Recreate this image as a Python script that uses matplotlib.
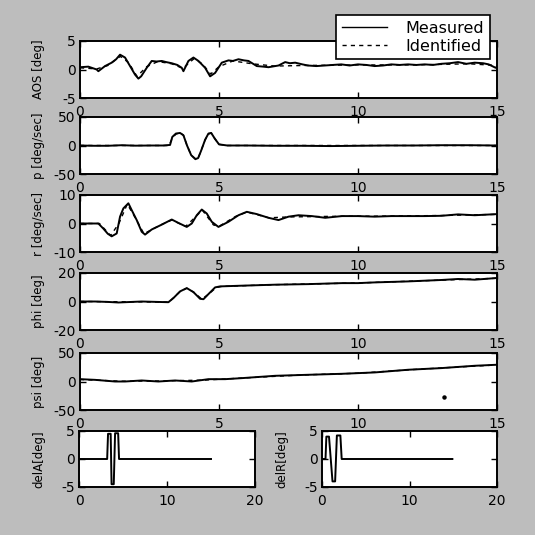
import matplotlib
matplotlib.use("Agg")
import matplotlib.pyplot as plt
from matplotlib.lines import Line2D

# ---------------- data ----------------
aos_t = [0, 0.3, 0.6, 0.66, 0.9, 1.14, 1.3, 1.44, 1.62, 1.8, 1.98, 2.1, 2.2, 2.4, 2.58, 2.75, 2.94, 3.1, 3.3,
         3.5, 3.66, 3.72, 3.9, 4.08, 4.26, 4.5, 4.68, 4.86, 5.1, 5.34, 5.5, 5.7, 5.9, 6.06, 6.36, 6.6, 6.78,
         7.14, 7.38, 7.55, 7.74, 8.0, 8.2, 8.5, 8.8, 9.1, 9.4, 9.7, 10.0, 10.3, 10.6, 10.9, 11.2, 11.5, 11.8,
         12.1, 12.4, 12.7, 13.0, 13.3, 13.6, 13.9, 14.2, 14.5, 14.7, 14.95, 15.0]
aos_v = [0.4, 0.5, 0.0, -0.3, 0.6, 1.2, 1.8, 2.6, 2.1, 0.6, -0.9, -1.6, -1.2, 0.3, 1.5, 1.4, 1.5, 1.3, 1.1,
         0.8, 0.3, -0.3, 1.5, 2.1, 1.5, 0.3, -1.2, -0.6, 1.2, 1.6, 1.5, 1.8, 1.6, 1.5, 0.6, 0.5, 0.4,
         0.7, 1.3, 1.1, 1.2, 0.9, 0.7, 0.6, 0.7, 0.8, 0.9, 0.7, 0.9, 0.8, 0.6, 0.7, 0.9, 0.8, 0.9,
         0.8, 0.9, 0.8, 1.0, 1.1, 1.3, 1.0, 1.2, 1.1, 0.9, 0.3, 0.5]
aos_id_t = [0, 0.6, 1.0, 1.45, 1.75, 2.05, 2.4, 2.8, 3.3, 3.7, 4.1, 4.4, 4.7, 5.0, 5.5, 6.2, 7.0, 8.0, 10.0, 12.0, 14.0, 15.0]
aos_id_v = [0.3, 0.1, 0.7, 2.3, 1.2, -1.2, 0.5, 1.4, 1.0, 0.2, 1.9, 1.0, -0.8, 0.5, 1.5, 1.0, 0.6, 0.7, 0.8, 0.8, 1.0, 0.7]

p_t = [0, 0.5, 1.0, 1.5, 2.0, 2.5, 3.0, 3.24, 3.32, 3.45, 3.6, 3.72, 3.85, 4.0, 4.15, 4.25, 4.35, 4.5, 4.62,
       4.72, 4.85, 5.0, 5.3, 6.0, 7.0, 8.0, 9.0, 10.0, 11.0, 12.0, 13.0, 14.0, 15.0]
p_v = [0, -0.5, -0.5, 0.5, -0.3, 0, 0, 1, 15, 21, 22, 18, 0, -17, -24, -22, -10, 10, 21,
       22, 12, 2, 0, 0, -0.5, -0.5, -1, -0.5, 0, 0, 0.5, 0.5, 0]
p_id_t = [0, 3.2, 3.32, 3.45, 3.6, 3.72, 3.85, 4.0, 4.15, 4.25, 4.35, 4.5, 4.62, 4.72, 4.85, 5.0, 5.3, 15.0]
p_id_v = [0, 0, 13, 20, 22, 18, 0, -17, -23, -22, -10, 10, 20, 22, 12, 2, 0, 0]

r_t = [0, 0.66, 0.84, 1.0, 1.14, 1.32, 1.44, 1.56, 1.74, 1.86, 2.04, 2.22, 2.34, 2.58, 2.94, 3.3, 3.54,
       3.84, 4.02, 4.2, 4.38, 4.56, 4.74, 4.98, 5.34, 5.7, 6.0, 6.36, 6.78, 7.14, 7.5, 7.86, 8.34, 8.82,
       9.42, 10.0, 10.6, 11.2, 11.8, 12.4, 13.0, 13.6, 14.2, 15.0]
r_v = [0, 0, -1.8, -3.6, -4.5, -3.5, 2.4, 5.3, 7.1, 4.7, 1.2, -2.9, -3.9, -2.1, -0.4, 1.4, 0.2,
       -1.2, 0, 2.9, 4.9, 3.5, 0.6, -1.2, 0.6, 2.9, 4.1, 3.3, 2.0, 1.2, 2.4, 2.9, 2.6, 2.0,
       2.6, 2.6, 2.4, 2.6, 2.6, 2.6, 2.7, 3.2, 2.9, 3.3]
r_id_t = [0, 0.7, 1.1, 1.4, 1.7, 2.0, 2.3, 2.9, 3.3, 3.8, 4.1, 4.4, 4.8, 5.0, 5.6, 6.0, 6.8, 7.5, 9.0, 11.0, 13.0, 15.0]
r_id_v = [0, 0, -4.2, 0, 6.8, 1.8, -3.6, -0.5, 1.2, -1.0, 1.8, 4.7, -0.5, -1.0, 2.5, 4.0, 2.0, 2.3, 2.5, 2.6, 2.8, 3.2]

phi_t = [0, 0.54, 1.0, 1.38, 2.22, 2.8, 3.18, 3.36, 3.6, 3.84, 4.08, 4.32, 4.44, 4.62, 4.86, 5.04, 5.82,
         7.02, 8.22, 9.42, 10.0, 10.6, 11.8, 13.0, 13.6, 14.2, 15.0]
phi_v = [0, 0, -0.3, -0.7, 0, -0.3, -0.5, 2.4, 7.1, 9.4, 6.6, 1.9, 1.6, 5.2, 9.9, 10.6, 11.1,
         11.8, 12.2, 12.9, 12.9, 13.4, 14.1, 15.1, 15.8, 15.3, 16.5]
phi_id_t = [0, 3.2, 3.6, 3.84, 4.1, 4.38, 4.62, 4.9, 5.1, 7.0, 10.0, 13.0, 15.0]
phi_id_v = [0, -0.4, 7.0, 9.3, 6.4, 1.7, 5.0, 9.8, 10.6, 11.8, 13.0, 15.0, 16.3]

psi_t = [0, 0.54, 1.26, 1.62, 2.22, 2.82, 3.42, 4.02, 4.62, 5.22, 5.82, 7.02, 8.22, 9.42, 10.6, 11.8,
         13.0, 14.2, 15.0]
psi_v = [4.1, 2.9, 0, 0, 1.8, 0, 1.8, 0, 4.1, 4.1, 5.9, 10, 11.8, 13.5, 15.9, 20.6, 23.5, 27.6, 29.4]
psi_id_t = [0, 1.5, 3.0, 4.5, 6.0, 8.0, 10.0, 12.0, 14.0, 15.0]
psi_id_v = [3.5, 0.5, 1.0, 2.5, 6.5, 11.5, 14.5, 21.0, 26.5, 29.0]
psi_dot_t = [13.08]
psi_dot_v = [-26.5]

delA_t = [0, 3.2, 3.3, 3.6, 3.7, 3.95, 4.1, 4.45, 4.55, 15.0]
delA_v = [0, 0, 4.5, 4.5, -4.5, -4.5, 4.6, 4.6, 0, 0]

delR_t = [0, 0.4, 0.5, 0.8, 1.2, 1.5, 1.7, 2.1, 2.25, 14.9]
delR_v = [0, 0, 4.0, 4.0, -4.0, -4.0, 4.2, 4.2, 0, 0]

x_ticks_top = [0, 5, 10, 15]
x_ticks_bot = [0, 10, 20]
panel_ylabels = ["AOS [deg]", "p [deg/sec]", "r [deg/sec]", "phi [deg]", "psi [deg]"]
panel_ylims = [5, 50, 10, 20, 50]
legend_labels = ["Measured", "Identified"]

# ---------------- layout ----------------
plt.rcParams["font.family"] = ["DejaVu Sans"]
plt.rcParams["axes.unicode_minus"] = False

W = H = 535
fig = plt.figure(figsize=(5.35, 5.35), dpi=100)
fig.patch.set_facecolor("#bdbdbd")

def add_px_axes(x0, x1, ytop, ybot):
    return fig.add_axes([x0 / W, 1 - ybot / H, (x1 - x0) / W, (ybot - ytop) / H])

rows = [(41, 98), (117, 174), (195, 252), (273, 330), (353, 410)]
tick_fs = 10
label_fs = 8.5

def style(ax):
    ax.set_facecolor("white")
    for s in ax.spines.values():
        s.set_linewidth(1.4)
        s.set_color("black")
    ax.tick_params(direction="in", length=4, width=1.0, top=True, right=True,
                   labelsize=tick_fs, colors="black")
    ax.tick_params(axis="x", pad=5)
    ax.tick_params(axis="y", pad=3)

series = [(aos_t, aos_v, aos_id_t, aos_id_v), (p_t, p_v, p_id_t, p_id_v), (r_t, r_v, r_id_t, r_id_v),
          (phi_t, phi_v, phi_id_t, phi_id_v), (psi_t, psi_v, psi_id_t, psi_id_v)]

for i, ((ytop, ybot), (mt, mv, it, iv)) in enumerate(zip(rows, series)):
    ax = add_px_axes(80, 497, ytop, ybot)
    style(ax)
    ax.plot(mt, mv, color="black", lw=1.4, solid_joinstyle="round")
    ax.plot(it, iv, color="black", lw=1.0, ls=(0, (3, 3)))
    lim = panel_ylims[i]
    ax.set_xlim(0, 15)
    ax.set_ylim(-lim, lim)
    ax.set_xticks(x_ticks_top)
    ax.set_yticks([-lim, 0, lim])
    ax.set_ylabel(panel_ylabels[i], fontsize=label_fs)
    ax.yaxis.set_label_coords((45 - 80) / 417, 0.5)
    if i == 4:
        ax.plot(psi_dot_t, psi_dot_v, "o", color="black", ms=2.2)

axL = add_px_axes(79, 255, 431, 487)
style(axL)
axL.plot(delA_t, delA_v, color="black", lw=1.4)
axL.set_xlim(0, 20)
axL.set_ylim(-5, 5)
axL.set_xticks(x_ticks_bot)
axL.set_yticks([-5, 0, 5])
axL.set_ylabel("delA[deg]", fontsize=label_fs)
axL.yaxis.set_label_coords((45 - 79) / 176, 0.5)

axR = add_px_axes(322, 497, 431, 487)
style(axR)
axR.plot(delR_t, delR_v, color="black", lw=1.4)
axR.set_xlim(0, 20)
axR.set_ylim(-5, 5)
axR.set_xticks(x_ticks_bot)
axR.set_yticks([-5, 0, 5])
axR.set_ylabel("delR[deg]", fontsize=label_fs)
axR.yaxis.set_label_coords((288 - 322) / 175, 0.5)

handles = [Line2D([], [], color="black", lw=1.0),
           Line2D([], [], color="black", lw=1.0, ls=(0, (3, 3)))]
leg = fig.legend(handles, legend_labels, loc="upper right",
                 bbox_to_anchor=(498 / W, 1 - 7 / H), fontsize=11.5,
                 frameon=True, fancybox=False, framealpha=1, edgecolor="black",
                 handlelength=2.8, handletextpad=1.2, borderpad=0.35, labelspacing=0.2)
leg.get_frame().set_linewidth(1.2)

fig.savefig("out.png", dpi=100, facecolor=fig.get_facecolor())
